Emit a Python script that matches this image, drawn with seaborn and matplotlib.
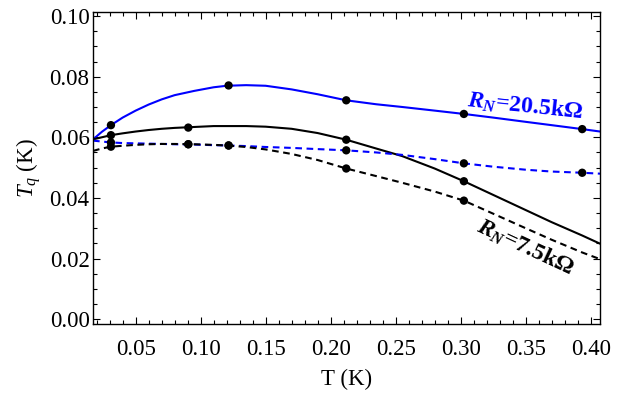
import numpy as np
import pandas as pd
import matplotlib
matplotlib.use("Agg")
import matplotlib.pyplot as plt
from matplotlib.ticker import MultipleLocator, FormatStrFormatter
import seaborn as sns


# ── Data ──────────────────────────────────────────────────────────────────────
# smooth fitted curves, sampled along T
T_curve = [0.0172, 0.024, 0.031, 0.04, 0.05, 0.06, 0.07, 0.08, 0.095, 0.11,
           0.12, 0.135, 0.15, 0.17, 0.19, 0.212, 0.235, 0.255, 0.28, 0.3025,
           0.325, 0.35, 0.37, 0.3935, 0.4072]
blue_solid_curve = [0.0593, 0.0618, 0.0640, 0.0665, 0.0688, 0.0708, 0.0725,
                    0.0739, 0.0753, 0.0765, 0.0770, 0.0772, 0.0770, 0.0758,
                    0.0742, 0.0722, 0.0709, 0.0700, 0.0688, 0.0677, 0.0665,
                    0.0651, 0.0640, 0.0627, 0.0619]
black_solid_curve = [0.0593, 0.0600, 0.0607, 0.0613, 0.0619, 0.0624, 0.0628,
                     0.0631, 0.0634, 0.0637, 0.0637, 0.0637, 0.0635, 0.0628,
                     0.0614, 0.0592, 0.0563, 0.0538, 0.0497, 0.0455, 0.0410,
                     0.0360, 0.0320, 0.0276, 0.0249]
blue_dashed_curve = [0.0589, 0.0586, 0.0583, 0.0581, 0.0580, 0.0579, 0.0578,
                     0.0577, 0.0576, 0.0574, 0.0573, 0.0571, 0.0568, 0.0565,
                     0.0561, 0.0557, 0.0550, 0.0542, 0.0528, 0.0514, 0.0503,
                     0.0493, 0.0487, 0.0483, 0.0480]
black_dashed_curve = [0.0555, 0.0563, 0.0569, 0.0572, 0.0575, 0.0577, 0.0578,
                      0.0578, 0.0577, 0.0575, 0.0573, 0.0568, 0.0560, 0.0545,
                      0.0525, 0.0497, 0.0472, 0.0450, 0.0421, 0.0391, 0.0348,
                      0.0300, 0.0262, 0.0220, 0.0198]

# measured points
T_blue_solid = [0.031, 0.1215, 0.212, 0.3025, 0.3935]
Tq_blue_solid = [0.0640, 0.0771, 0.0722, 0.0677, 0.0627]
T_black_solid = [0.031, 0.0905, 0.212, 0.3025]
Tq_black_solid = [0.0607, 0.0632, 0.0592, 0.0455]
T_blue_dashed = [0.031, 0.0905, 0.1215, 0.212, 0.3025, 0.3935]
Tq_blue_dashed = [0.0583, 0.0577, 0.0573, 0.0557, 0.0514, 0.0483]
T_black_dashed = [0.031, 0.0905, 0.1215, 0.212, 0.3025]
Tq_black_dashed = [0.0569, 0.0577, 0.0573, 0.0497, 0.0391]

x_ticks = [0.05, 0.10, 0.15, 0.20, 0.25, 0.30, 0.35, 0.40]
y_ticks = [0.00, 0.02, 0.04, 0.06, 0.08, 0.10]

BLUE = "#0000ff"
DASH = (0, (3.2, 2.2))

# ── Style ─────────────────────────────────────────────────────────────────────
sns.set_theme(style="ticks")
plt.rcParams["font.family"] = ["Liberation Serif", "DejaVu Serif"]
plt.rcParams["mathtext.fontset"] = "custom"
plt.rcParams["mathtext.rm"] = "Liberation Serif"
plt.rcParams["mathtext.it"] = "Liberation Serif:italic"
plt.rcParams["mathtext.bf"] = "Liberation Serif:bold"
plt.rcParams["mathtext.bfit"] = "Liberation Serif:italic:bold"

fig = plt.figure(figsize=(6.31, 3.96), dpi=100)
ax = fig.add_axes([93 / 631, 1 - 324 / 396, (600 - 93) / 631, (324 - 11.5) / 396])

# ── Curves ────────────────────────────────────────────────────────────────────
sns.lineplot(x=T_curve, y=blue_solid_curve, ax=ax, color=BLUE, lw=1.5, sort=False)
sns.lineplot(x=T_curve, y=black_solid_curve, ax=ax, color="black", lw=1.5, sort=False)
sns.lineplot(x=T_curve, y=blue_dashed_curve, ax=ax, color=BLUE, lw=1.5,
             linestyle=DASH, sort=False)
sns.lineplot(x=T_curve, y=black_dashed_curve, ax=ax, color="black", lw=1.5,
             linestyle=DASH, sort=False)

# ── Points ────────────────────────────────────────────────────────────────────
for xs, ys in [(T_blue_solid, Tq_blue_solid), (T_black_solid, Tq_black_solid),
               (T_blue_dashed, Tq_blue_dashed), (T_black_dashed, Tq_black_dashed)]:
    sns.scatterplot(x=xs, y=ys, ax=ax, color="black", s=36, edgecolor="none",
                    zorder=5)

# ── Labels ────────────────────────────────────────────────────────────────────
ax.text(0.3495, 0.0702, r"$\mathbfit{R}_{\mathbfit{N}}$=20.5k$\mathbf{\Omega}$",
        color=BLUE, fontsize=17, fontweight="bold", rotation=-6,
        ha="center", va="center", rotation_mode="anchor")
ax.text(0.3495, 0.0235, r"$\mathbfit{R}_{\mathbfit{N}}$=7.5k$\mathbf{\Omega}$",
        color="black", fontsize=17, fontweight="bold", rotation=-25,
        ha="center", va="center", rotation_mode="anchor")

# ── Axes ──────────────────────────────────────────────────────────────────────
ax.set_xlim(0.0172, 0.4072)
ax.set_ylim(-0.0016, 0.1015)
ax.set_xticks(x_ticks)
ax.set_yticks(y_ticks)
ax.xaxis.set_minor_locator(MultipleLocator(0.01))
ax.yaxis.set_minor_locator(MultipleLocator(0.005))
ax.xaxis.set_major_formatter(FormatStrFormatter("%.2f"))
ax.yaxis.set_major_formatter(FormatStrFormatter("%.2f"))
ax.tick_params(which="both", direction="in", top=True, right=True,
               color="black", width=0.8, labelsize=16.5, labelcolor="black")
ax.tick_params(which="major", length=5)
ax.tick_params(which="minor", length=3)
ax.tick_params(axis="x", which="major", pad=11)
ax.tick_params(axis="y", which="major", pad=2.5)
for side in ax.spines.values():
    side.set_color("black")
    side.set_linewidth(1.0)

ax.set_xlabel("T (K)", fontsize=16.5, color="black", labelpad=6)
ax.set_ylabel(r"$T_q$ (K)", fontsize=16.5, color="black", labelpad=5)

fig.savefig("out.png", dpi=100)
